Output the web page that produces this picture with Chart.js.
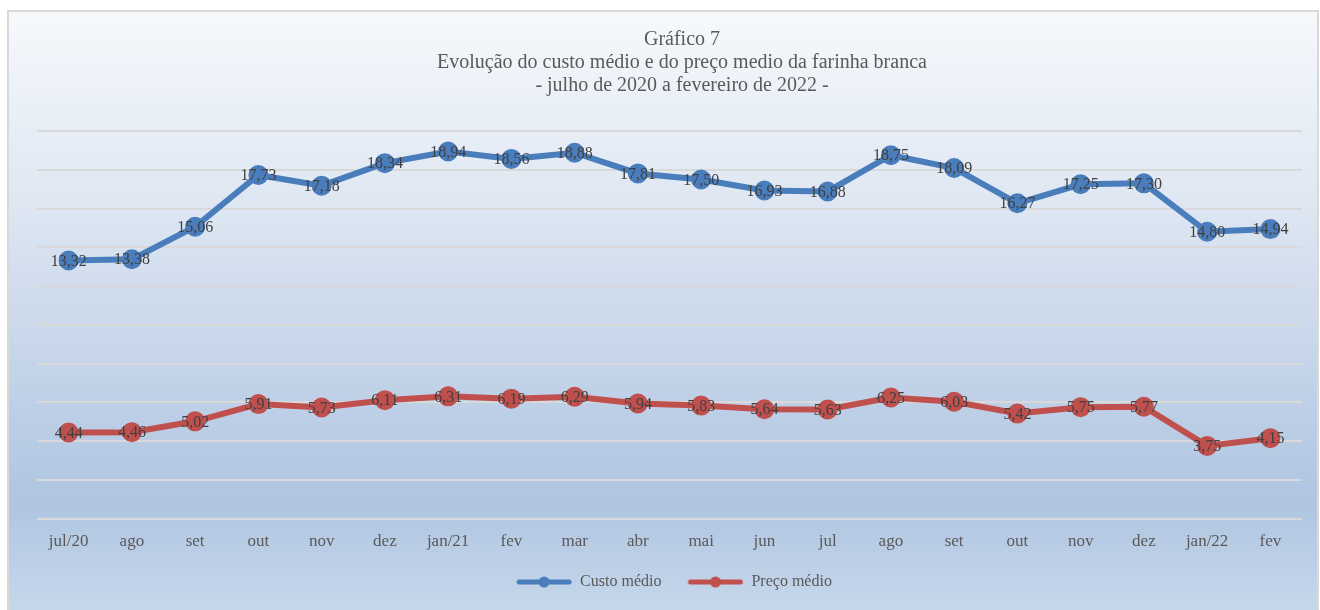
<!DOCTYPE html>
<html>
<head>
<meta charset="utf-8">
<script src="https://cdn.jsdelivr.net/npm/chart.js@4/dist/chart.umd.min.js"></script>
<style>
  html, body { margin: 0; padding: 0; background: #fff; }
</style>
</head>
<body>
<canvas id="grafico" width="1320" height="610"></canvas>
<script>
var meses = ['jul/20', 'ago', 'set', 'out', 'nov', 'dez', 'jan/21', 'fev', 'mar', 'abr',
             'mai', 'jun', 'jul', 'ago', 'set', 'out', 'nov', 'dez', 'jan/22', 'fev'];
var custoMedio = [13.32, 13.38, 15.06, 17.73, 17.18, 18.34, 18.94, 18.56, 18.88, 17.81,
                  17.50, 16.93, 16.88, 18.75, 18.09, 16.27, 17.25, 17.30, 14.80, 14.94];
var precoMedio = [4.44, 4.46, 5.02, 5.91, 5.73, 6.11, 6.31, 6.19, 6.29, 5.94,
                  5.83, 5.64, 5.63, 6.25, 6.03, 5.42, 5.75, 5.77, 3.75, 4.15];
var titulo = ['Gráfico 7',
              'Evolução do custo médio e do preço medio da farinha branca',
              '- julho de 2020 a fevereiro de 2022 -'];

var fonte = '"Liberation Serif", "DejaVu Serif", serif';
var corAzul = '#4a7dbb';
var corVermelho = '#c0504d';

// simbolo da legenda: linha com marcador (com folga a esquerda para separar os itens)
function simbolo(cor) {
  var c = document.createElement('canvas');
  c.width = 65; c.height = 14;
  var g = c.getContext('2d');
  g.strokeStyle = cor;
  g.lineWidth = 5;
  g.lineCap = 'round';
  g.beginPath(); g.moveTo(12, 7); g.lineTo(62, 7); g.stroke();
  g.fillStyle = cor;
  g.beginPath(); g.arc(37, 7, 5.5, 0, Math.PI * 2); g.fill();
  return c;
}

var fundoPlugin = {
  id: 'fundo',
  beforeDraw: function (chart) {
    var ctx = chart.ctx;
    ctx.save();
    ctx.fillStyle = '#ffffff';
    ctx.fillRect(0, 0, chart.width, chart.height);
    var grad = ctx.createLinearGradient(0, 11, 0, 610);
    grad.addColorStop(0, '#f6f9fc');
    grad.addColorStop(0.3, '#e0e8f3');
    grad.addColorStop(0.82, '#afc5e1');
    grad.addColorStop(1, '#c6d7ea');
    ctx.fillStyle = grad;
    ctx.fillRect(8, 11, 1310, 610);
    ctx.strokeStyle = '#d9d9d9';
    ctx.lineWidth = 2;
    ctx.strokeRect(8, 11, 1310, 610);
    // titulo (centrado na moldura, como no original)
    ctx.font = '20px ' + fonte;
    ctx.fillStyle = '#595959';
    ctx.textAlign = 'center';
    ctx.textBaseline = 'middle';
    titulo.forEach(function (linha, i) {
      ctx.fillText(linha, 682, 40 + i * 23);
    });
    ctx.restore();
  }
};

var rotulosPlugin = {
  id: 'rotulos',
  afterDatasetsDraw: function (chart) {
    var ctx = chart.ctx;
    ctx.save();
    ctx.font = '16px ' + fonte;
    ctx.fillStyle = '#404040';
    ctx.textAlign = 'center';
    ctx.textBaseline = 'middle';
    chart.data.datasets.forEach(function (ds, i) {
      chart.getDatasetMeta(i).data.forEach(function (pt, j) {
        ctx.fillText(ds.data[j].toFixed(2).replace('.', ','), pt.x, pt.y + 1);
      });
    });
    ctx.restore();
  }
};

new Chart(document.getElementById('grafico'), {
  type: 'line',
  data: {
    labels: meses,
    datasets: [{
      label: 'Custo médio',
      data: custoMedio,
      borderColor: corAzul,
      backgroundColor: corAzul,
      borderWidth: 6,
      pointRadius: 7,
      pointStyle: 'circle',
      tension: 0
    }, {
      label: 'Preço médio',
      data: precoMedio,
      borderColor: corVermelho,
      backgroundColor: corVermelho,
      borderWidth: 6,
      pointRadius: 7,
      pointStyle: 'circle',
      tension: 0
    }]
  },
  options: {
    responsive: false,
    animation: false,
    devicePixelRatio: 1,
    layout: { padding: { left: 37, right: 18, top: 131, bottom: 10 } },
    scales: {
      x: {
        offset: true,
        grid: { display: false },
        border: { display: false },
        ticks: { color: '#595959', font: { family: fonte, size: 17 }, padding: 5 }
      },
      y: {
        min: 0, max: 20,
        ticks: { display: false, stepSize: 2 },
        border: { display: false },
        grid: { color: '#d9d9d9', lineWidth: 2, drawTicks: false }
      }
    },
    plugins: {
      title: { display: false },
      legend: {
        position: 'bottom',
        labels: {
          color: '#595959',
          font: { family: fonte, size: 16 },
          usePointStyle: true,
          pointStyleWidth: 65,
          padding: 17,
          generateLabels: function (chart) {
            return chart.data.datasets.map(function (ds, i) {
              return {
                text: ds.label,
                pointStyle: simbolo(ds.borderColor),
                fontColor: '#595959',
                datasetIndex: i,
                lineWidth: 0
              };
            });
          }
        }
      },
      tooltip: { enabled: false }
    }
  },
  plugins: [fundoPlugin, rotulosPlugin]
});
</script>
</body>
</html>
